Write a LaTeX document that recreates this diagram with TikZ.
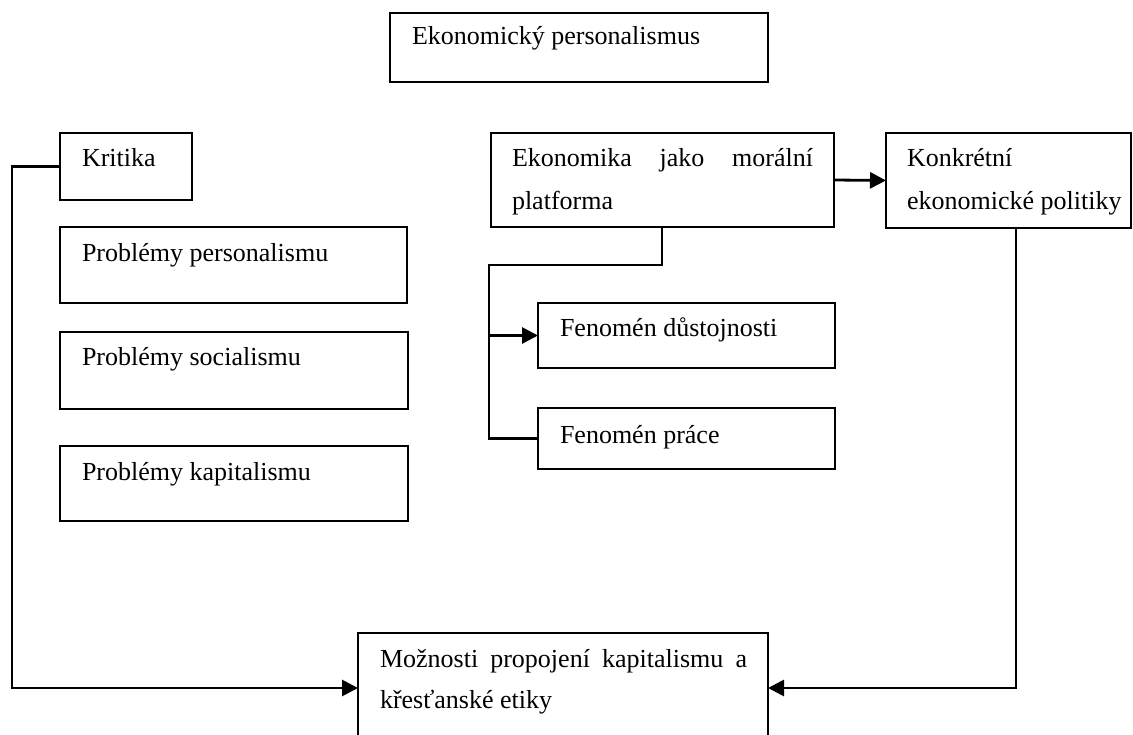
\documentclass[tikz,border=0pt]{standalone}
\usepackage{fontspec}
\setmainfont{Liberation Serif}
\usetikzlibrary{arrows.meta}
\tikzset{
  box/.style={draw, line width=1.5pt, inner sep=0pt, outer sep=0pt, anchor=north west},
  txt/.style={anchor=base west, inner sep=0pt, outer sep=0pt, font=\fontsize{26pt}{31pt}\selectfont},
  conn/.style={draw, line width=2.8pt},
  arr/.style={-{Triangle[length=16pt,width=16pt]}}
}
\newcommand{\mkbox}[5]{\node[box, minimum width=#4pt, minimum height=#5pt] (#1) at (#2,#3) {};}
\begin{document}
\begin{tikzpicture}[x=1pt,y=-1pt]
\useasboundingbox (0,0) rectangle (1133,735);
\clip (0,0) rectangle (1133,735);
\fill[white] (0,0) rectangle (1133,735);
% boxes
\mkbox{top}{390}{13}{378}{69}
\mkbox{krit}{60}{133}{132}{67}
\mkbox{pp}{60}{227}{347}{76}
\mkbox{ps}{60}{332}{348}{77}
\mkbox{pk}{60}{446}{348}{75}
\mkbox{ek}{491}{133}{343}{94}
\mkbox{ko}{886}{133}{245}{95}
\mkbox{fd}{538}{303}{297}{65}
\mkbox{fp}{538}{408}{297}{61}
\mkbox{mo}{358}{633}{410}{130}
% texts
\node[txt] (ttop) at (412,45) {Ekonomický personalismus};
\node[txt] (tkrit) at (82,167) {Kritika};
\node[txt] (tpp) at (82,262) {Problémy personalismu};
\node[txt] (tps) at (82,366) {Problémy socialismu};
\node[txt] (tpk) at (82,480) {Problémy kapitalismu};
\node[txt] (tek1) at (512,167) {\hbox to 301pt{Ekonomika\hfill jako\hfill morální}};
\node[txt] (tek2) at (512,210) {platforma};
\node[txt] (tko1) at (907,167) {Konkrétní};
\node[txt] (tko2) at (907,210) {ekonomické politiky};
\node[txt] (tfd) at (560,337) {Fenomén důstojnosti};
\node[txt] (tfp) at (560,443) {Fenomén práce};
\node[txt] (tmo1) at (380,667) {\hbox to 367pt{Možnosti\hfill propojení\hfill kapitalismu\hfill a}};
\node[txt] (tmo2) at (380,708) {křesťanské etiky};
% connector coordinates
\coordinate (j1) at (662,265);
\coordinate (j2) at (489,265);
\coordinate (c1) at (12,688);
\coordinate (c2) at (1016,688);
% connectors
\draw[conn, arr] (ek.east) -- (ko.west);
\draw[conn] (ek.south -| j1) -- (j1) -- (j2) |- (fp.west);
\draw[conn, arr] (j2 |- fd.west) -- (fd.west);
\draw[conn, arr] (krit.west) -| (c1) -- (c1 -| mo.west);
\draw[conn, arr] (ko.south -| c2) -- (c2) -- (c2 -| mo.east);
\end{tikzpicture}
\end{document}
